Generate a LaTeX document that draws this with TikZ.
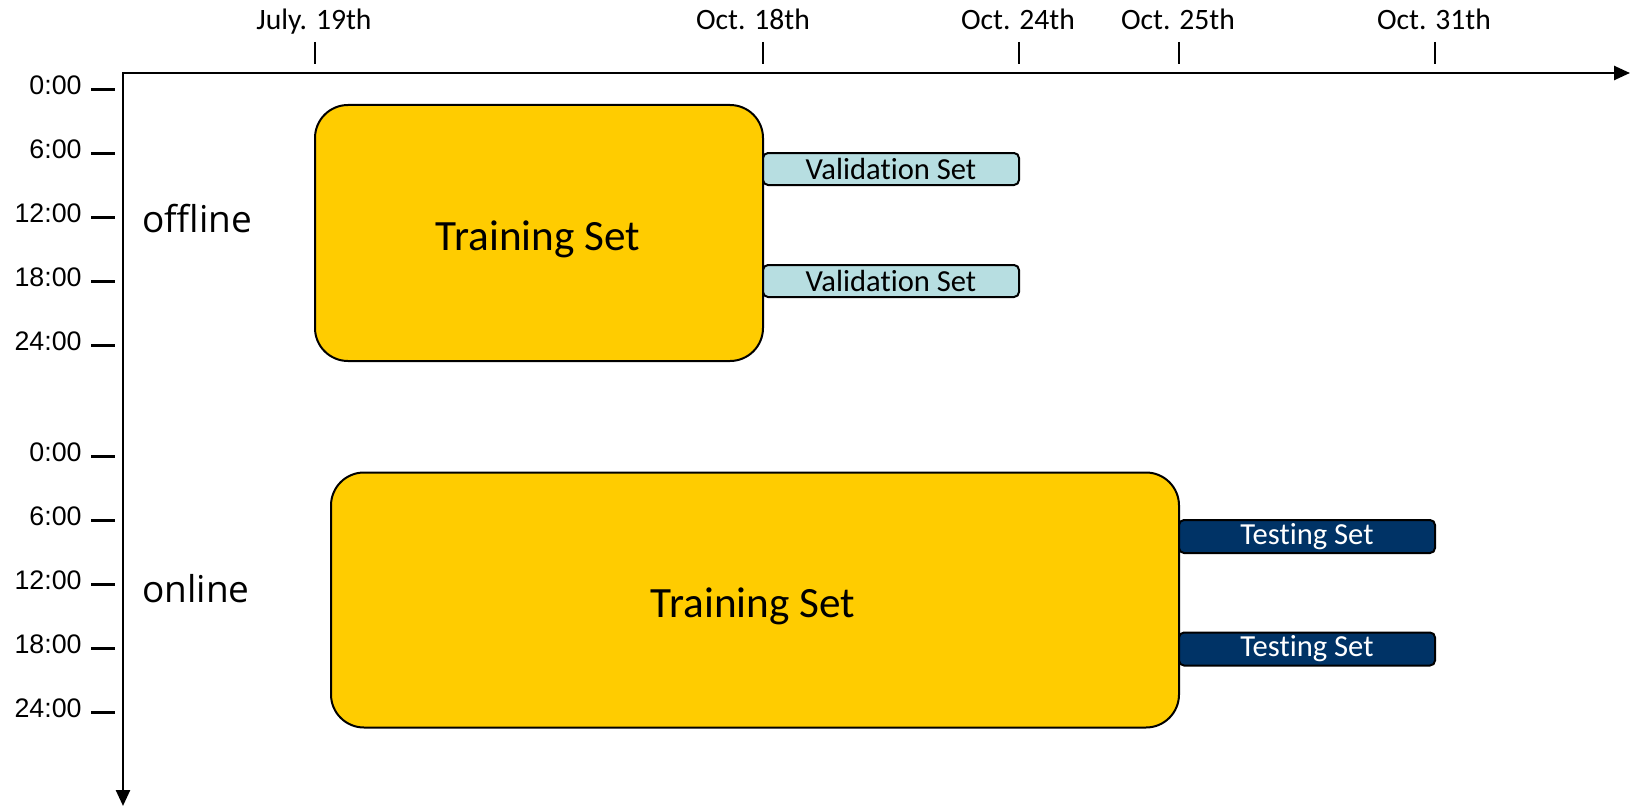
\documentclass[tikz,border=0pt]{standalone}
\usepackage{fontspec}
\setmainfont{Carlito}[Ligatures={NoCommon,NoContextual,NoRequired},RawFeature={-liga;-dlig;-calt}]
\newfontfamily\arialf{Liberation Sans}
\newfontfamily\opensf{Open Sans}
\usetikzlibrary{arrows.meta}
\definecolor{trainyellow}{RGB}{255,204,0}
\definecolor{validblue}{RGB}{183,222,225}
\definecolor{testnavy}{RGB}{0,51,102}
\tikzset{
  axisline/.style={line width=1.25pt,black,{Triangle[length=8pt,width=7pt]}-{Triangle[length=8pt,width=7pt]}},
  tickline/.style={line width=1pt,black},
  hourlabel/.style={anchor=base east,inner sep=0pt,font=\arialf\fontsize{13.4pt}{15pt}\selectfont},
  datelabel/.style={anchor=base,inner sep=0pt,font=\fontsize{14.8pt}{17pt}\selectfont},
  modelabel/.style={anchor=base west,inner sep=0pt,font=\opensf\fontsize{18.5pt}{21pt}\selectfont},
  trainbox/.style={draw=black,line width=1pt,fill=trainyellow,rounded corners=16.5pt,inner sep=0pt},
  traintext/.style={inner sep=0pt,font=\fontsize{21.6pt}{25pt}\selectfont},
  validbox/.style={draw=black,line width=1pt,fill=validblue,rounded corners=2.5pt,inner sep=0pt,minimum width=128pt,minimum height=16pt,font=\fontsize{15.3pt}{17pt}\selectfont},
  testbox/.style={draw=black,line width=1pt,fill=testnavy,text=white,rounded corners=2.5pt,inner sep=0pt,minimum width=128pt,minimum height=16.5pt,font=\fontsize{15.3pt}{17pt}\selectfont}
}
\begin{document}
\begin{tikzpicture}[x=0.5pt,y=-0.5pt]
\useasboundingbox (0,0) rectangle (1632,808);
% axes
\coordinate (xend) at (1630,73);
\coordinate (yend) at (123,806);
\draw[axisline] (xend) -| (yend);
% date ticks and labels
\foreach \name/\x/\lx/\txt in {d1/315/314/{July. 19th},d2/763/753/{Oct. 18th},d3/1019/1018/{Oct. 24th},d4/1179/1178/{Oct. 25th},d5/1435/1434/{Oct. 31th}}{
  \coordinate (\name a) at (\x,42);
  \coordinate (\name b) at (\x,64);
  \draw[tickline] (\name a) -- (\name b);
  \node[datelabel] (\name l) at (\lx,29.3) {\txt};
}
% hour ticks
\foreach \name/\y/\txt in {h1/89.5/0:00,h2/153.5/6:00,h3/217.5/12:00,h4/281.5/18:00,h5/345.5/24:00,
                           h6/456.5/0:00,h7/520.5/6:00,h8/584.5/12:00,h9/648.5/18:00,h10/712.5/24:00}{
  \coordinate (\name a) at (91,\y);
  \coordinate (\name b) at (115,\y);
  \draw[tickline,line width=1.2pt] (\name a) -- (\name b);
  \node[hourlabel] (\name l) at (82,\y+5) {\txt};
}
% mode labels
\node[modelabel] (off) at (142,232.5) {offline};
\node[modelabel] (on) at (142,602) {online};
% offline boxes
\node[trainbox,minimum width=224pt,minimum height=128pt] (train1) at (539,233) {};
\node[traintext] (train1t) at (538,239) {Training Set};
\node[validbox] (val1) at (891,169) {Validat\kern0pt ion Set};
\node[validbox] (val2) at (891,281) {Validat\kern0pt ion Set};
% online boxes
\node[trainbox,minimum width=424pt,minimum height=127.5pt] (train2) at (755,600) {};
\node[traintext] (train2t) at (753,606) {Training Set};
\node[testbox] (test1) at (1307,536.5) {Test\kern0pt ing Set};
\node[testbox] (test2) at (1307,649) {Test\kern0pt ing Set};
\end{tikzpicture}
\end{document}
